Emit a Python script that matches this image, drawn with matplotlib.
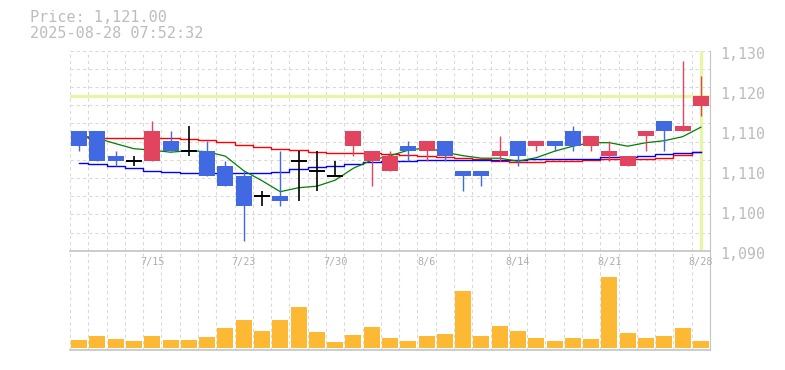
import numpy as np
import matplotlib
matplotlib.use('Agg')
import matplotlib.pyplot as plt
import matplotlib.transforms as mtransforms

# trading days (Jul 9 - Aug 28)
dates = ['7/9', '7/10', '7/11', '7/14', '7/15', '7/16', '7/17', '7/18', '7/22', '7/23',
         '7/24', '7/25', '7/28', '7/29', '7/30', '7/31', '8/1', '8/4', '8/5', '8/6',
         '8/7', '8/8', '8/12', '8/13', '8/14', '8/15', '8/18', '8/19', '8/20', '8/21',
         '8/22', '8/25', '8/26', '8/27', '8/28']

opens = [1114, 1114, 1109, 1108, 1108, 1112, 1110, 1110, 1107, 1105,
         1101, 1101, 1108, 1106, 1105, 1111, 1108, 1106, 1111, 1110,
         1112, 1106, 1106, 1109, 1112, 1111, 1112, 1114, 1111, 1109,
         1107, 1113, 1116, 1114, 1119]
highs = [1114, 1114, 1110, 1109, 1116, 1114, 1115, 1112, 1108, 1106,
         1102, 1110, 1110, 1110, 1108, 1114, 1110, 1110, 1112, 1112,
         1112, 1106, 1106, 1113, 1112, 1112, 1112, 1115, 1113, 1112,
         1109, 1114, 1116, 1128, 1125]
lows = [1110, 1108, 1107, 1107, 1108, 1110, 1109, 1105, 1103, 1092,
        1099, 1099, 1100, 1102, 1105, 1109, 1103, 1106, 1108, 1108,
        1108, 1102, 1103, 1108, 1107, 1110, 1110, 1110, 1110, 1108,
        1107, 1110, 1110, 1114, 1117]
closes = [1111, 1108, 1108, 1108, 1114, 1110, 1110, 1105, 1103, 1099,
          1101, 1100, 1108, 1106, 1105, 1114, 1110, 1109, 1110, 1112,
          1109, 1105, 1105, 1110, 1109, 1112, 1111, 1111, 1113, 1110,
          1109, 1114, 1114, 1115, 1121]

volume = [24, 36, 27, 21, 36, 24, 24, 33, 60, 84,
          51, 84, 123, 48, 18, 39, 63, 30, 21, 36,
          42, 171, 36, 66, 51, 30, 21, 30, 27, 213,
          45, 30, 36, 60, 21]

ma_short = [1113.0, 1112.5, 1111.4, 1110.4, 1110.1, 1109.7, 1110.0, 1109.8, 1108.9, 1106.0,
            1104.0, 1101.8, 1102.6, 1102.9, 1104.1, 1106.5, 1108.1, 1109.0, 1110.1, 1110.6,
            1109.7, 1109.0, 1108.5, 1108.5, 1107.9, 1108.6, 1109.9, 1110.9, 1111.6, 1111.6,
            1110.9, 1111.6, 1112.0, 1112.8, 1114.7]
ma_mid = [1112.8, 1112.6, 1112.5, 1112.5, 1112.5, 1112.5, 1112.4, 1112.1, 1111.7, 1111.1,
          1110.7, 1110.3, 1110.1, 1109.8, 1109.5, 1109.6, 1109.5, 1109.4, 1109.1, 1108.9,
          1108.7, 1108.5, 1108.3, 1108.0, 1107.7, 1107.7, 1107.9, 1108.0, 1108.1, 1108.3,
          1108.3, 1108.4, 1108.5, 1109.1, 1109.7]
ma_long = [1107.5, 1107.3, 1106.9, 1106.5, 1105.9, 1105.7, 1105.5, 1105.5, 1105.5, 1105.5,
           1105.5, 1105.8, 1106.4, 1106.7, 1107.0, 1107.3, 1107.8, 1107.9, 1107.9, 1108.1,
           1108.1, 1108.1, 1108.1, 1108.2, 1108.2, 1108.3, 1108.3, 1108.3, 1108.4, 1108.7,
           1108.8, 1108.9, 1109.3, 1109.5, 1109.8]

last_price = 1121.00
timestamp = '2025-08-28 07:52:32'
price_ticks = [1090, 1098, 1106, 1114, 1122, 1130]
label_every = 5

UP = '#e24460'
DOWN = '#4169e1'
GRID = '#d8d8d8'
FRAME = '#c4c4c4'
TEXT = '#bcbcbc'
MARK = '#e6f5a8'


def main():
    fig = plt.figure(figsize=(7.85, 3.7), dpi=100)
    W, H = 785, 370
    ax = fig.add_axes([70 / W, 1 - 250.7 / H, 640 / W, 200 / H])
    axv = fig.add_axes([70 / W, 1 - 350 / H, 640 / W, 99.3 / H], sharex=ax)

    n = len(dates)
    x = np.arange(n)
    ax.set_xlim(-0.5, n - 0.5)
    ax.set_ylim(1090, 1130)
    axv.set_ylim(-6, 292)

    # dashed grid
    for a in (ax, axv):
        for gx in np.arange(-0.5, n - 0.5, 1.0):
            a.axvline(gx, color=GRID, lw=0.75, ls=(0, (3, 3)), zorder=0.5)
    for gy in np.linspace(1090, 1130, 12)[1:]:
        ax.axhline(gy, color=GRID, lw=0.75, ls=(0, (3, 3)), zorder=0.5)

    # current price / last day markers
    ax.axhline(last_price, color=MARK, lw=2.4, zorder=1)
    ax.axvline(x[-1], color=MARK, lw=2.4, zorder=1)

    # moving averages
    ax.plot(x, ma_mid, color='#ff0000', lw=1.0, drawstyle='steps-mid', zorder=2)
    ax.plot(x, ma_long, color='#0000ff', lw=1.0, drawstyle='steps-mid', zorder=2)
    ax.plot(x, ma_short, color='#008000', lw=0.9, zorder=2)

    # candles
    w = 0.875
    for i in range(n):
        o, h, l, c = opens[i], highs[i], lows[i], closes[i]
        if c == o:
            col = 'black'
            ax.vlines(i, l, h, color=col, lw=1.2, zorder=3)
            ax.hlines(c, i - w / 2, i + w / 2, color=col, lw=1.4, zorder=4)
            continue
        col = UP if c > o else DOWN
        ax.vlines(i, l, h, color=col, lw=1.0, zorder=3)
        ax.bar(i, abs(c - o), bottom=min(o, c), width=w, color=col, zorder=4)

    # volume
    axv.bar(x, volume, width=w, color='#fdb933', zorder=2)

    # frames
    for a in (ax, axv):
        a.spines['left'].set_visible(False)
        a.spines['right'].set_color(FRAME)
        a.spines['bottom'].set_color(FRAME)
        a.spines['top'].set_visible(False)
        a.tick_params(length=0)
        a.patch.set_alpha(0)
    ax.spines['bottom'].set_linewidth(1.2)
    axv.spines['bottom'].set_linewidth(1.2)

    ax.set_xticks([])
    axv.set_xticks([])
    axv.set_yticks([])

    ax.yaxis.tick_right()
    ax.set_yticks(price_ticks)
    ax.set_yticklabels([f'{round(v, -1):,.0f}' for v in price_ticks],
                       family='DejaVu Sans Mono', fontsize=10.7, color=TEXT)
    ax.tick_params(axis='y', pad=7.2)
    shift = mtransforms.ScaledTranslation(0, -2.6 / 100, fig.dpi_scale_trans)
    for lab in ax.get_yticklabels():
        lab.set_transform(lab.get_transform() + shift)

    # date labels inside the volume panel
    trans = mtransforms.blended_transform_factory(axv.transData, axv.transAxes)
    for i in range(label_every - 1, n, label_every):
        axv.text(i, 0.885, dates[i], transform=trans, ha='center', va='center',
                 family='DejaVu Sans Mono', fontsize=7.3, color='#adadad')

    fig.text(30 / W, 1 - 17.5 / H, f'Price: {last_price:,.2f}', family='DejaVu Sans Mono',
             fontsize=10.9, color=TEXT, va='center')
    fig.text(30 / W, 1 - 33 / H, timestamp, family='DejaVu Sans Mono',
             fontsize=10.9, color=TEXT, va='center')

    fig.savefig('out.png', dpi=100)


if __name__ == "__main__":
    main()
